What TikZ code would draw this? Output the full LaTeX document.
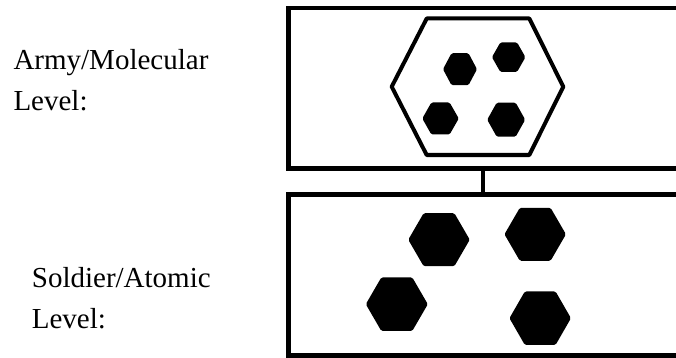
\documentclass[tikz,border=0pt]{standalone}
\usepackage{fontspec}
\setmainfont{Liberation Serif}
\newcommand\hexfill[4]{%
  \fill[rounded corners=1.5pt] ({#1-#3/2},{#2}) -- ({#1-#3/4},{#2-#4/2}) -- ({#1+#3/4},{#2-#4/2}) -- ({#1+#3/2},{#2}) -- ({#1+#3/4},{#2+#4/2}) -- ({#1-#3/4},{#2+#4/2}) -- cycle;}
\begin{document}
\begin{tikzpicture}[x=1pt,y=-1pt,
  levelbox/.style={draw,line width=4.8pt,rectangle,inner sep=0pt},
  label/.style={anchor=base west,inner sep=0pt,font=\fontsize{29}{34}\selectfont}]
\clip (0,0) rectangle (676,358);
\useasboundingbox (0,0) rectangle (676,358);
\fill[white] (0,0) rectangle (676,358);
% boxes
\node[levelbox,minimum width=421.5pt,minimum height=160.7pt] (top) at (499.25,88.35) {};
\node[levelbox,minimum width=421.5pt,minimum height=160.7pt] (bot) at (499.25,275.2) {};
\coordinate (cx) at (483,0);
\draw[line width=3.3pt] (top.south -| cx) -- (bot.north -| cx);
% molecule hexagon
\draw[line width=4pt,line join=round] (426.7,18.5) -- (529.3,18.5) -- (563.3,86.7) -- (529.3,155) -- (426.7,155) -- (391.7,86.7) -- cycle;
\hexfill{460}{69.2}{34}{32}
\hexfill{508.7}{57.2}{33.5}{29.5}
\hexfill{440.5}{118.5}{36.5}{32}
\hexfill{506.2}{119.7}{38}{34}
% atoms
\hexfill{439}{239.7}{61.5}{53}
\hexfill{535.2}{234.3}{61.5}{53}
\hexfill{396.8}{304.2}{62}{53.5}
\hexfill{540.2}{318.2}{61.5}{53.5}
% labels
\node[label] (l1) at (13.3,69.5) {Army/Molecular};
\node[label] (l2) at (13.3,111) {Level:};
\node[label] (l3) at (31.7,287) {Soldier/Atomic};
\node[label] (l4) at (31.7,328) {Level:};
\end{tikzpicture}
\end{document}
